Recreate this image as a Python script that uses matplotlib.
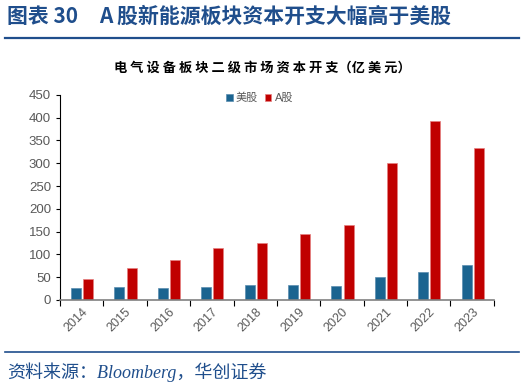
import matplotlib.pyplot as plt
import numpy as np

plt.rcParams['font.family'] = ['Liberation Sans', 'Noto Sans CJK SC', 'DejaVu Sans']

# data
years = ['2014', '2015', '2016', '2017', '2018', '2019', '2020', '2021', '2022', '2023']
us_capex = [27, 28, 27, 28, 32, 33, 31, 50, 61, 77]
a_capex = [47, 71, 87, 113, 124, 145, 164, 300, 392, 334]

blue = '#1B6490'
red = '#C00000'
navy = '#1F4E8C'

fig = plt.figure(figsize=(5.24, 3.89), dpi=100)

# header
fig.text(0.013, 0.958, '图表 30', fontsize=15, fontweight='bold', color=navy, va='center',
         ha='left', family=['Noto Sans CJK SC', 'DejaVu Sans'])
fig.text(0.19, 0.958, 'A 股新能源板块资本开支大幅高于美股', fontsize=15, fontweight='bold',
         color=navy, va='center', ha='left', family=['Noto Sans CJK SC', 'DejaVu Sans'])
fig.add_artist(plt.Line2D([0.01, 0.99], [0.902, 0.902], color=navy, lw=1.6))
fig.text(0.5, 0.826, '电 气 设 备 板 块 二 级 市 场 资 本 开 支（亿 美 元）', fontsize=9.5,
         fontweight='bold', color='black', ha='center', va='center',
         family=['Noto Sans CJK SC', 'DejaVu Sans'])

ax = fig.add_axes([0.1145, 0.229, 0.828, 0.527])
x = np.arange(len(years))
w = 0.23
ax.bar(x - 0.13, us_capex, width=w, color=blue, edgecolor='#5A8DB0', linewidth=0.5, label='美股')
ax.bar(x + 0.15, a_capex, width=w, color=red, edgecolor='#E58080', linewidth=0.5, label='A股')

ax.set_xlim(-0.5, len(years) - 0.5)
ax.set_ylim(0, 450)
ax.set_yticks(range(0, 451, 50))
ax.set_xticks(x)
ax.set_xticklabels(years, rotation=45, ha='right', rotation_mode='anchor')
ax.set_xticks(np.arange(-0.5, len(years), 1), minor=True)
ax.tick_params(axis='x', which='major', length=0, labelsize=9, colors='#595959', pad=4)
ax.tick_params(axis='x', which='minor', length=4, color='black', width=0.8)
ax.tick_params(axis='y', length=3, color='black', width=0.8, labelsize=9.5, labelcolor='#595959')
for s in ['top', 'right']:
    ax.spines[s].set_visible(False)
ax.spines['left'].set_color('black')
ax.spines['left'].set_linewidth(0.8)
ax.spines['bottom'].set_color('#808080')
ax.spines['bottom'].set_linewidth(1.2)

leg = ax.legend(loc='upper center', bbox_to_anchor=(0.46, 1.06), ncol=2, frameon=False,
                fontsize=8, handlelength=0.6, handleheight=0.6, handletextpad=0.3,
                columnspacing=0.6, labelcolor='#595959')

fig.add_artist(plt.Line2D([0.01, 0.99], [0.095, 0.095], color=navy, lw=1.2))
fig.text(0.013, 0.043, '资料来源：Bloomberg，华创证券', fontsize=13, style='italic',
         color=navy, ha='left', va='center', family=['Liberation Serif', 'Noto Sans CJK SC'])

fig.savefig('out.png', dpi=100)
